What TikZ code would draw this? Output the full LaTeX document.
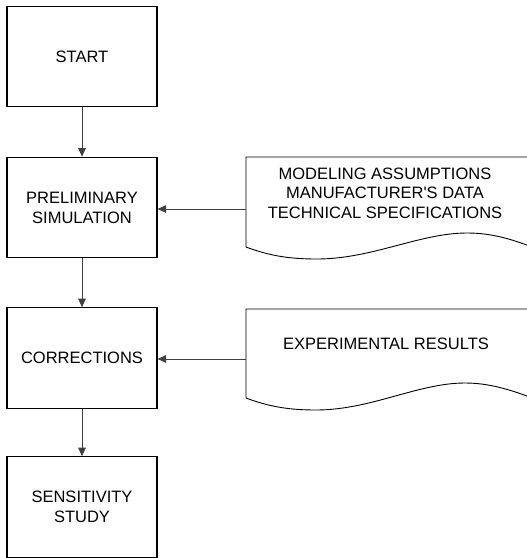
\documentclass[tikz,border=0pt]{standalone}
\usepackage{fontspec}
\setmainfont{Liberation Sans}
\usetikzlibrary{arrows.meta}
\tikzset{
  stepbox/.style={draw=black, line width=1.1pt, minimum width=150pt, minimum height=100.5pt, inner sep=0pt, align=center, font=\fontsize{16.5}{20}\selectfont},
  doctext/.style={align=center, inner sep=0pt, font=\fontsize{16.5}{19.5}\selectfont},
  docshape/.style={draw=black, line width=0.9pt},
  conn/.style={draw=black!75, line width=1pt, -{Triangle[length=8.5pt,width=7.5pt]}}
}
\begin{document}
\begin{tikzpicture}[x=1pt,y=-1pt]
\clip (0,0) rectangle (527,558);
\fill[white] (0,0) rectangle (527,558);
% process boxes
\node[stepbox] (start) at (82,56.5) {START};
\node[stepbox] (prelim) at (82,207.5) {PRELIMINARY\\SIMULATION};
\node[stepbox] (corr) at (82,358) {CORRECTIONS};
\node[stepbox] (sens) at (82,507) {SENSITIVITY\\STUDY};
% document shapes
\draw[docshape] (540,157) -- (246,157) -- (246,247)
  .. controls (270,256) and (290,259) .. (317,259)
  .. controls (372,259) and (420,233) .. (467,233)
  .. controls (492,233) and (512,239) .. (540,250);
\draw[docshape] (540,309) -- (246,309) -- (246,398)
  .. controls (270,407) and (290,410) .. (316,410)
  .. controls (371,410) and (418,383) .. (465,383)
  .. controls (490,383) and (512,390) .. (540,401);
\coordinate (d1) at (246,209);
\coordinate (d2) at (246,359);
\node[doctext] (doc1) at (385,193) {MODELING ASSUMPTIONS\\MANUFACTURER\textquotesingle S DATA\\TECHNICAL SPECIFICATIONS};
\node[doctext] (doc2) at (386,344) {EXPERIMENTAL RESULTS};
% connectors
\draw[conn] (start) -- (prelim);
\draw[conn] (prelim) -- (corr);
\draw[conn] (corr) -- (sens);
\draw[conn] (d1) -- (d1 -| prelim.east);
\draw[conn] (d2) -- (d2 -| corr.east);
\end{tikzpicture}
\end{document}
